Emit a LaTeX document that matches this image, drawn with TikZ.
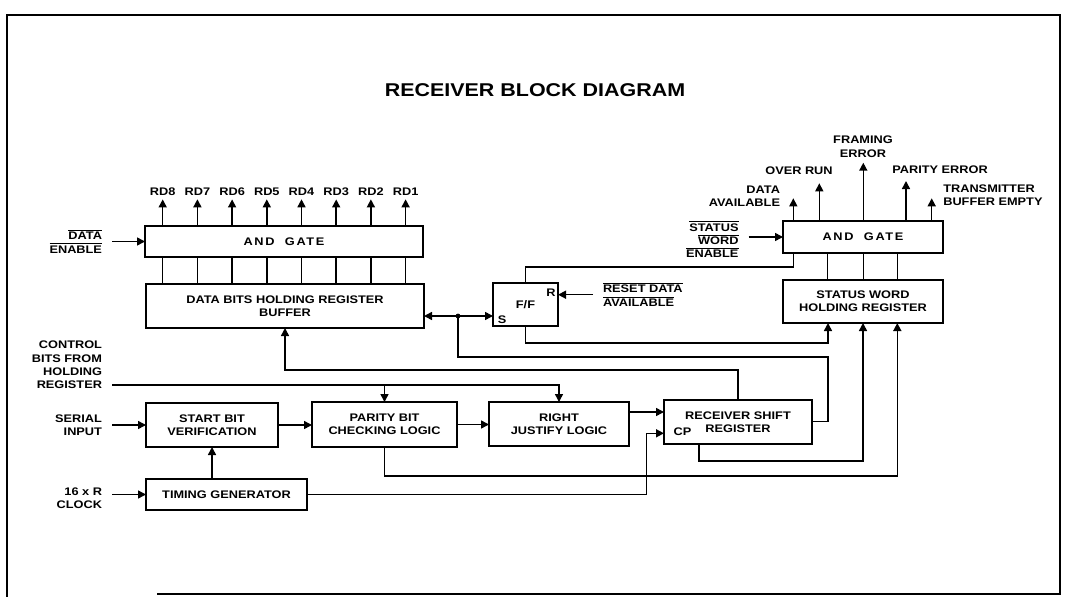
\documentclass[tikz,border=0pt]{standalone}
\usepackage{fontspec}
\setmainfont{Liberation Sans}[FakeStretch=1.16]
\newfontfamily\spacedfont{Liberation Sans}[FakeStretch=1.16, LetterSpace=15]
\usetikzlibrary{arrows.meta}
\newcommand{\obar}[1]{\vbox{\hrule height 1pt\kern1.2pt\hbox{#1}}}
\tikzset{
  txt/.style={font=\bfseries\fontsize{11}{13.3}\selectfont},
  box/.style={txt, draw, line width=1.6pt, inner sep=0pt, outer sep=0pt, align=center},
  lbl/.style={txt, inner sep=0pt, outer sep=0pt},
  wire/.style={line width=1.5pt},
  arr/.style={wire, -{Triangle[length=8pt,width=8pt]}},
}
\begin{document}
\begin{tikzpicture}[x=1pt,y=-1pt]
\useasboundingbox (0,0) rectangle (1068,597);
\draw[line width=1.6pt] (157,594) -- (1060,594) -- (1060,15) -- (7,15) -- (7,597);
\node[font=\bfseries\fontsize{18.5}{20}\selectfont, inner sep=0pt] (title) at (535,90) {RECEIVER BLOCK DIAGRAM};

% boxes
\node[box, minimum width=278pt, minimum height=31pt] (andL) at (284,241.5) {\spacedfont\bfseries AND\ \ GATE};
\node[box, minimum width=278pt, minimum height=44pt] (buf) at (285,306) {DATA BITS HOLDING REGISTER\\BUFFER};
\node[box, minimum width=65pt, minimum height=43pt] (ff) at (525.5,304.5) {F/F};
\node[box, minimum width=160pt, minimum height=32pt] (andR) at (863,237) {\spacedfont\bfseries AND\ \ GATE};
\node[box, minimum width=160pt, minimum height=43pt] (swr) at (863,301.5) {STATUS WORD\\HOLDING REGISTER};
\node[box, minimum width=132pt, minimum height=44pt] (sbv) at (212,425) {START BIT\\VERIFICATION};
\node[box, minimum width=145pt, minimum height=45pt] (pbc) at (384.5,424.5) {PARITY BIT\\CHECKING LOGIC};
\node[box, minimum width=140pt, minimum height=44pt] (rjl) at (559,424) {RIGHT\\JUSTIFY LOGIC};
\node[box, minimum width=148pt, minimum height=44pt] (rsr) at (738,422) {RECEIVER SHIFT\\REGISTER};
\node[box, minimum width=161pt, minimum height=31pt] (tg) at (226.5,494.5) {TIMING GENERATOR};

% small labels inside boxes
\node[lbl] (sS) at (502,320) {S};
\node[lbl] (sR) at (551,292.7) {R};
\node[lbl] (cp) at (682.5,431.7) {CP};

% RD outputs
\foreach \i in {1,...,8} {
  \node[lbl] (rd\i) at ({162.7+34.7*(8-\i)},191.5) {RD\i};
  \draw[arr] (andL.north -| rd\i) -- ([yshift=-4pt]rd\i.south);
  \draw[wire] (andL.south -| rd\i) -- (buf.north -| rd\i);
}

% left labels
\node[lbl, align=right, anchor=east] (de) at (102,241.5) {\obar{DATA}\\\obar{ENABLE}};
\draw[arr] ([xshift=10pt]de.east) -- (andL.west);
\node[lbl, align=right, anchor=east] (cb) at (102,365) {CONTROL\\BITS FROM\\HOLDING\\REGISTER};
\node[lbl, align=right, anchor=east] (si) at (102,425) {SERIAL\\INPUT};
\draw[arr] ([xshift=10pt]si.east) -- (sbv.west);
\node[lbl, align=right, anchor=east] (clk) at (102,498.5) {16 x R\\CLOCK};
\draw[arr] ([xshift=10pt]clk.east |- tg.west) -- (tg.west);

% control bits
\coordinate (cC) at (112,385);
\draw[arr] (cC) -| (rjl.north);
\draw[arr] (cC -| pbc.north) -- (pbc.north);

% chain
\draw[arr] (sbv.east) -- (pbc.west |- sbv.east);
\draw[arr] (pbc.east) -- (rjl.west |- pbc.east);
\draw[arr] ([yshift=12pt]rjl.east) -- ([yshift=10pt]rsr.west);
\draw[arr] (tg.north -| sbv.south) -- (sbv.south);
\coordinate (cCP) at (646.7,433.3);
\draw[arr] (tg.east) -| (cCP) -- (cCP -| rsr.west);

% junction and flip-flop
\coordinate (j) at (458,316);
\draw[arr] (j) -- (buf.east |- j);
\draw[arr] (j) -- (ff.west |- j);
\fill (j) circle (2.4pt);
\node[lbl, align=left, anchor=west] (rda) at (603,294.7) {\obar{RESET DATA}\\\obar{AVAILABLE}};
\draw[arr] ([xshift=-10pt]rda.west) -- (ff.east |- rda.west);

\coordinate (cDA) at (793.5,267);
\draw[wire] (ff.north) |- (cDA) -- (cDA |- andR.south);
\coordinate (cOR) at (828,343);
\draw[arr] (ff.south) |- (cOR) -- (cOR |- swr.south);
\coordinate (cJ) at (828,357);
\coordinate (cJ2) at (828,421.7);
\draw[wire] (j) |- (cJ) -- (cJ2) -- (cJ2 -| rsr.east);
\coordinate (cB) at (285,370);
\draw[arr] (rsr.north) |- (cB) -- (buf.south);
\coordinate (cRB) at (699,461);
\draw[arr] (cRB |- rsr.south) |- (cRB -| swr.south) -- (swr.south);
\coordinate (cPE) at (897.3,476);
\draw[arr] (pbc.south) |- (cPE) -- (cPE |- swr.south);

% status AND gate
\foreach \x in {827.7,863.3,897.3} \draw[wire] (andR.south -| \x,0) -- (swr.north -| \x,0);
\node[lbl, align=right, anchor=east] (cw) at (738.5,239.5) {\obar{STATUS}\\\obar{WORD}\\\obar{ENABLE}};
\draw[arr] ([xshift=10pt]cw.east |- andR.west) -- (andR.west);

\node[lbl, align=right, anchor=east] (da) at (780,196) {DATA\\AVAILABLE};
\node[lbl] (ovr) at (799,171) {OVER RUN};
\node[lbl, align=center] (fe) at (863,146.7) {FRAMING\\ERROR};
\node[lbl] (pe) at (940,170) {PARITY ERROR};
\node[lbl, align=left, anchor=west] (tbe) at (943.3,195) {TRANSMITTER\\BUFFER EMPTY};
\coordinate (tDA) at (793.3,198.3);
\coordinate (tOR) at (819.3,183.3);
\coordinate (tFE) at (863.3,162.7);
\coordinate (tPE) at (906,181);
\coordinate (tTB) at (931.7,198.3);
\foreach \t in {tDA,tOR,tFE,tPE,tTB} \draw[arr] (andR.north -| \t) -- (\t);
\end{tikzpicture}
\end{document}
